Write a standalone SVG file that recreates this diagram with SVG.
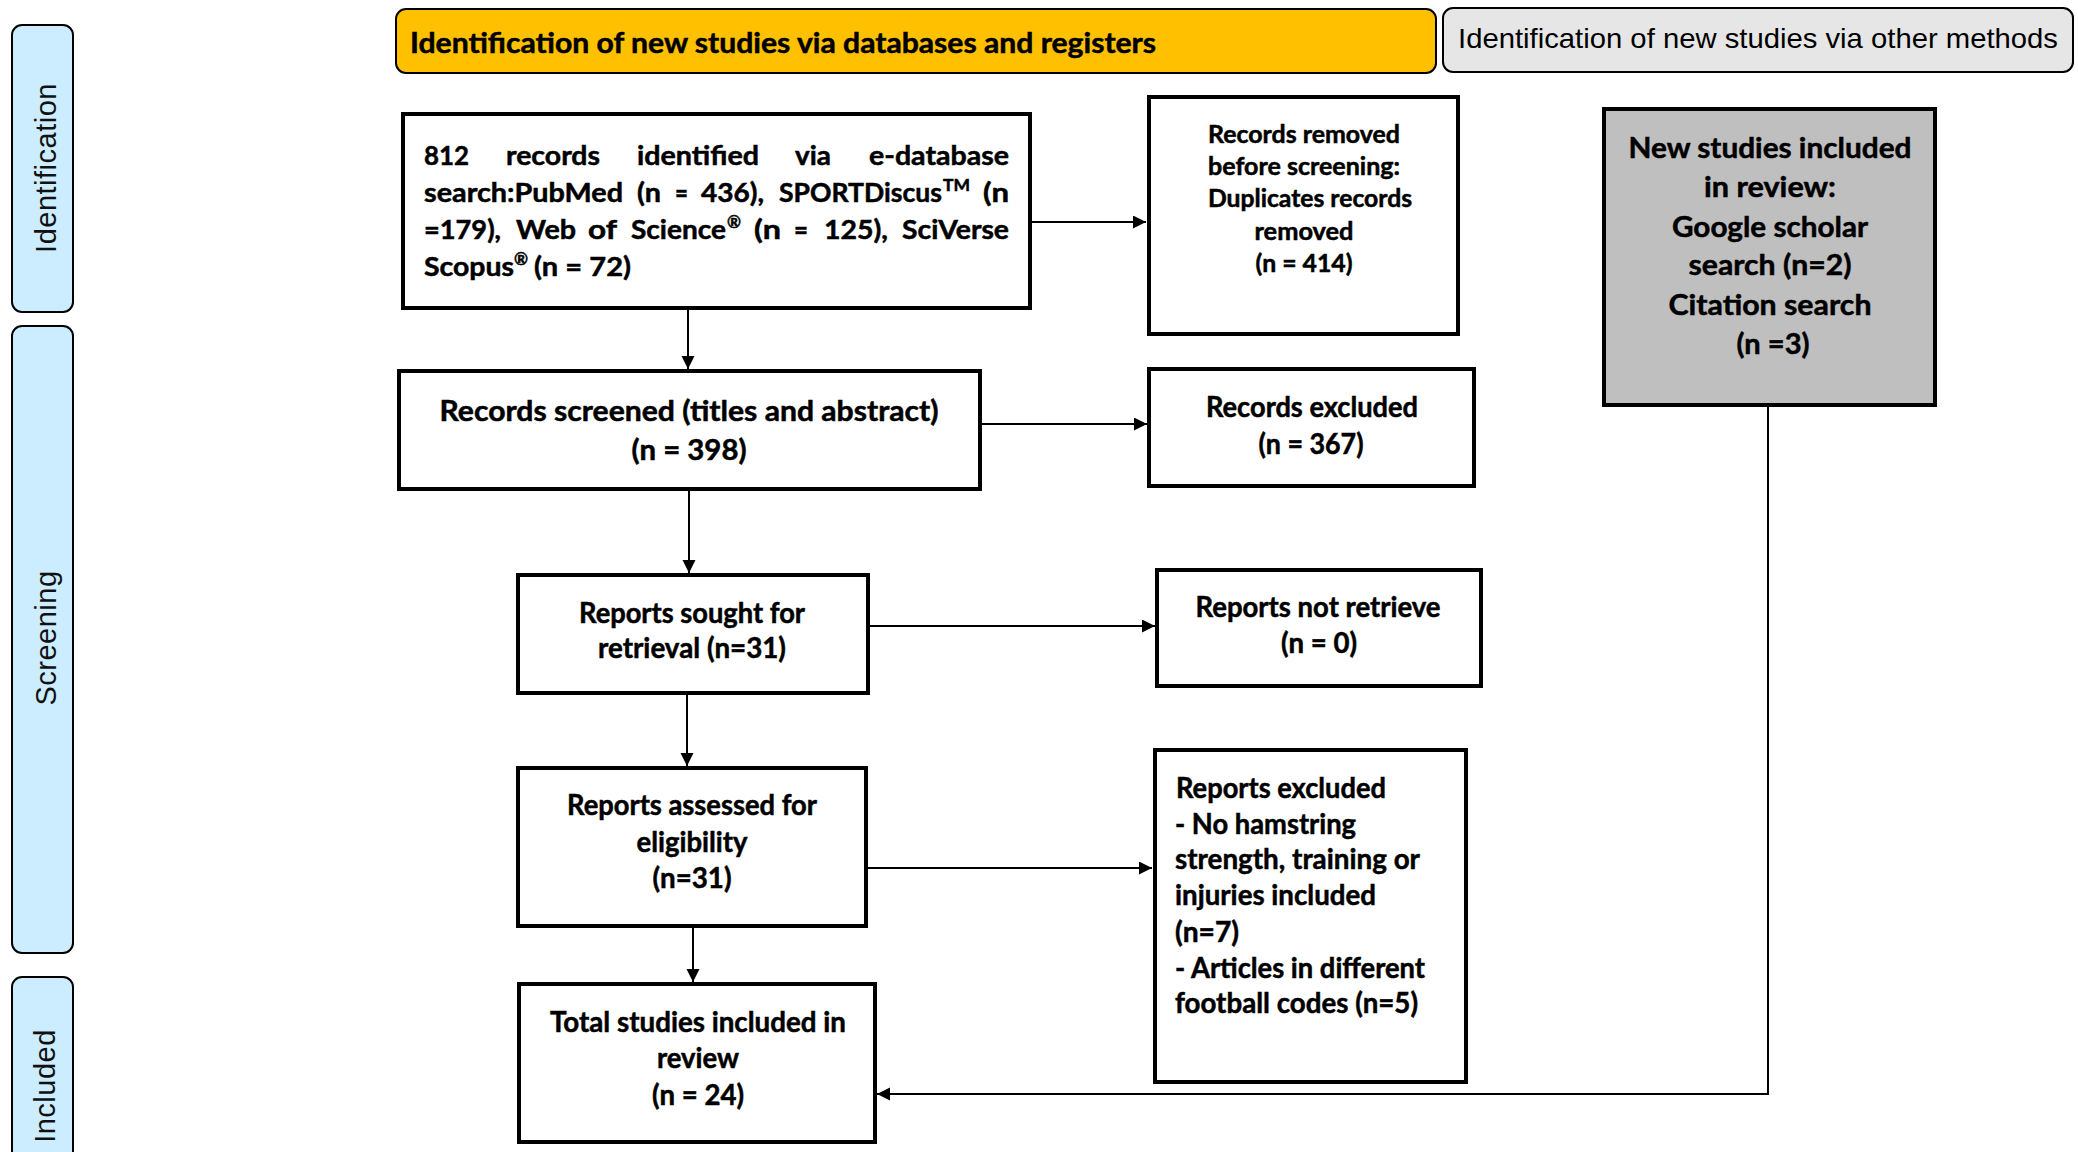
<svg xmlns="http://www.w3.org/2000/svg" width="2078" height="1152" viewBox="0 0 2078 1152">
<defs>
<marker id="ah" markerWidth="14" markerHeight="14" refX="13" refY="6.5" orient="auto" markerUnits="userSpaceOnUse">
<path d="M0,0 L13,6.5 L0,13 z" fill="#000"/>
</marker>
<style>
.side{fill:#CCECFF;stroke:#000;stroke-width:2}
.sidet{font-family:"Liberation Sans",Arial,sans-serif;font-size:29px;fill:#111;text-anchor:middle;letter-spacing:0.5px}
.box{fill:#fff;stroke:#000;stroke-width:4}
.b{font-family:Lato,"Liberation Sans",sans-serif;font-weight:700;font-size:28px;fill:#000;stroke:#000;stroke-width:0.5px}
.c{text-anchor:middle}
.w{font-size:27px}
.sm{font-size:24px}
.sup{font-size:17px}
.con{fill:none;stroke:#000;stroke-width:2}
</style>
</defs>
<rect width="2078" height="1152" fill="#fff"/>

<g id="side-identification">
<rect class="side" x="12" y="25" width="61" height="287" rx="10"/>
<text class="sidet" transform="translate(56,168) rotate(-90)">Identification</text>
</g>
<g id="side-screening">
<rect class="side" x="12" y="326" width="61" height="627" rx="10"/>
<text class="sidet" transform="translate(56,638) rotate(-90)">Screening</text>
</g>
<g id="side-included">
<rect class="side" x="12" y="977" width="61" height="210" rx="10"/>
<text class="sidet" transform="translate(55,1086) rotate(-90)">Included</text>
</g>

<g id="header-databases">
<rect x="396" y="9" width="1040" height="64" rx="10" fill="#FFC000" stroke="#000" stroke-width="2"/>
<text class="b" x="410" y="53" font-size="29" textLength="746" lengthAdjust="spacingAndGlyphs">Identification of new studies via databases and registers</text>
</g>
<g id="header-other">
<rect x="1443" y="8" width="630" height="64" rx="10" fill="#E7E6E6" stroke="#000" stroke-width="2"/>
<text x="1458" y="48" font-family="'Liberation Sans',Arial,sans-serif" font-size="28" fill="#000" textLength="600" lengthAdjust="spacingAndGlyphs">Identification of new studies via other methods</text>
</g>

<g id="node-records-identified">
<rect class="box" x="403" y="114" width="627" height="194"/>
<g class="b w">
<text x="424" y="165" textLength="45" lengthAdjust="spacingAndGlyphs">812</text>
<text x="506" y="165" textLength="94" lengthAdjust="spacingAndGlyphs">records</text>
<text x="637" y="165" textLength="122" lengthAdjust="spacingAndGlyphs">identified</text>
<text x="795" y="165" textLength="36" lengthAdjust="spacingAndGlyphs">via</text>
<text x="869" y="165" textLength="140" lengthAdjust="spacingAndGlyphs">e-database</text>
<text x="424" y="202" textLength="199" lengthAdjust="spacingAndGlyphs">search:PubMed</text>
<text x="637" y="202" textLength="24" lengthAdjust="spacingAndGlyphs">(n</text>
<text x="675" y="202" textLength="13" lengthAdjust="spacingAndGlyphs">=</text>
<text x="701" y="202" textLength="63" lengthAdjust="spacingAndGlyphs">436),</text>
<text x="779" y="202" textLength="163" lengthAdjust="spacingAndGlyphs">SPORTDiscus</text>
<text class="sup" x="943" y="191" textLength="27" lengthAdjust="spacingAndGlyphs">TM</text>
<text x="983" y="202" textLength="26" lengthAdjust="spacingAndGlyphs">(n</text>
<text x="424" y="239" textLength="77" lengthAdjust="spacingAndGlyphs">=179),</text>
<text x="516" y="239" textLength="60" lengthAdjust="spacingAndGlyphs">Web</text>
<text x="588" y="239" textLength="29" lengthAdjust="spacingAndGlyphs">of</text>
<text x="631" y="239" textLength="95" lengthAdjust="spacingAndGlyphs">Science</text>
<text class="sup" x="727" y="228">®</text>
<text x="754" y="239" textLength="27" lengthAdjust="spacingAndGlyphs">(n</text>
<text x="794" y="239" textLength="14" lengthAdjust="spacingAndGlyphs">=</text>
<text x="824" y="239" textLength="64" lengthAdjust="spacingAndGlyphs">125),</text>
<text x="902" y="239" textLength="107" lengthAdjust="spacingAndGlyphs">SciVerse</text>
<text x="424" y="276" textLength="90" lengthAdjust="spacingAndGlyphs">Scopus</text>
<text class="sup" x="514" y="265">®</text>
<text x="534" y="276" textLength="97" lengthAdjust="spacingAndGlyphs">(n = 72)</text>
</g>
</g>

<g id="node-records-removed">
<rect class="box" x="1149" y="97" width="309" height="237"/>
<g class="b c sm">
<text x="1304" y="143" textLength="192" lengthAdjust="spacingAndGlyphs">Records removed</text>
<text x="1304" y="175" textLength="192" lengthAdjust="spacingAndGlyphs">before screening:</text>
<text x="1310" y="207" textLength="204" lengthAdjust="spacingAndGlyphs">Duplicates records</text>
<text x="1304" y="240" textLength="99" lengthAdjust="spacingAndGlyphs">removed</text>
<text x="1304" y="272" textLength="97" lengthAdjust="spacingAndGlyphs">(n = 414)</text>
</g>
</g>

<g id="node-new-studies">
<rect x="1604" y="109" width="331" height="296" fill="#BFBFBF" stroke="#000" stroke-width="4"/>
<g class="b c">
<text x="1770" y="158" textLength="283" lengthAdjust="spacingAndGlyphs">New studies included</text>
<text x="1770" y="197" textLength="132" lengthAdjust="spacingAndGlyphs">in review:</text>
<text x="1770" y="237" textLength="196" lengthAdjust="spacingAndGlyphs">Google scholar</text>
<text x="1770" y="275" textLength="163" lengthAdjust="spacingAndGlyphs">search (n=2)</text>
<text x="1770" y="315" textLength="203" lengthAdjust="spacingAndGlyphs">Citation  search</text>
<text x="1773" y="354" textLength="73" lengthAdjust="spacingAndGlyphs">(n =3)</text>
</g>
</g>

<g id="node-records-screened">
<rect class="box" x="399" y="371" width="581" height="118"/>
<g class="b c">
<text x="689" y="421" textLength="499" lengthAdjust="spacingAndGlyphs">Records screened (titles and abstract)</text>
<text x="689" y="460" textLength="115" lengthAdjust="spacingAndGlyphs">(n = 398)</text>
</g>
</g>

<g id="node-records-excluded">
<rect class="box" x="1149" y="369" width="325" height="117"/>
<g class="b c">
<text x="1312" y="417" textLength="212" lengthAdjust="spacingAndGlyphs">Records excluded</text>
<text x="1311" y="454" textLength="105" lengthAdjust="spacingAndGlyphs">(n = 367)</text>
</g>
</g>

<g id="node-reports-sought">
<rect class="box" x="518" y="575" width="350" height="118"/>
<g class="b c">
<text x="692" y="623" textLength="226" lengthAdjust="spacingAndGlyphs">Reports sought for</text>
<text x="692" y="658" textLength="188" lengthAdjust="spacingAndGlyphs">retrieval (n=31)</text>
</g>
</g>

<g id="node-reports-not-retrieved">
<rect class="box" x="1157" y="570" width="324" height="116"/>
<g class="b c">
<text x="1318" y="617" textLength="245" lengthAdjust="spacingAndGlyphs">Reports not retrieve</text>
<text x="1319" y="653" textLength="76" lengthAdjust="spacingAndGlyphs">(n = 0)</text>
</g>
</g>

<g id="node-reports-assessed">
<rect class="box" x="518" y="768" width="348" height="158"/>
<g class="b c">
<text x="692" y="815" textLength="250" lengthAdjust="spacingAndGlyphs">Reports assessed for</text>
<text x="692" y="852" textLength="111" lengthAdjust="spacingAndGlyphs">eligibility</text>
<text x="692" y="888" textLength="79" lengthAdjust="spacingAndGlyphs">(n=31)</text>
</g>
</g>

<g id="node-reports-excluded">
<rect class="box" x="1155" y="750" width="311" height="332"/>
<g class="b">
<text x="1176" y="798" textLength="210" lengthAdjust="spacingAndGlyphs">Reports excluded</text>
<text x="1175" y="834" textLength="181" lengthAdjust="spacingAndGlyphs">- No hamstring</text>
<text x="1175" y="869" textLength="245" lengthAdjust="spacingAndGlyphs">strength, training or</text>
<text x="1175" y="905" textLength="201" lengthAdjust="spacingAndGlyphs">injuries included</text>
<text x="1175" y="942" textLength="64" lengthAdjust="spacingAndGlyphs">(n=7)</text>
<text x="1175" y="978" textLength="250" lengthAdjust="spacingAndGlyphs">- Articles in different</text>
<text x="1175" y="1013" textLength="243" lengthAdjust="spacingAndGlyphs">football codes (n=5)</text>
</g>
</g>

<g id="node-total-included">
<rect class="box" x="519" y="984" width="356" height="158"/>
<g class="b c">
<text x="698" y="1032" textLength="296" lengthAdjust="spacingAndGlyphs">Total studies included in</text>
<text x="698" y="1068" textLength="82" lengthAdjust="spacingAndGlyphs">review</text>
<text x="698" y="1105" textLength="92" lengthAdjust="spacingAndGlyphs">(n = 24)</text>
</g>
</g>

<g id="connectors">
<path class="con" d="M688,310 V369" marker-end="url(#ah)"/>
<path class="con" d="M1032,222 H1146" marker-end="url(#ah)"/>
<path class="con" d="M978,424 H1147" marker-end="url(#ah)"/>
<path class="con" d="M689,491 V573" marker-end="url(#ah)"/>
<path class="con" d="M870,626 H1155" marker-end="url(#ah)"/>
<path class="con" d="M687,695 V766" marker-end="url(#ah)"/>
<path class="con" d="M866,868 H1152" marker-end="url(#ah)"/>
<path class="con" d="M693,926 V982" marker-end="url(#ah)"/>
<path class="con" d="M1768,407 V1094 H877" marker-end="url(#ah)"/>
</g>
</svg>
